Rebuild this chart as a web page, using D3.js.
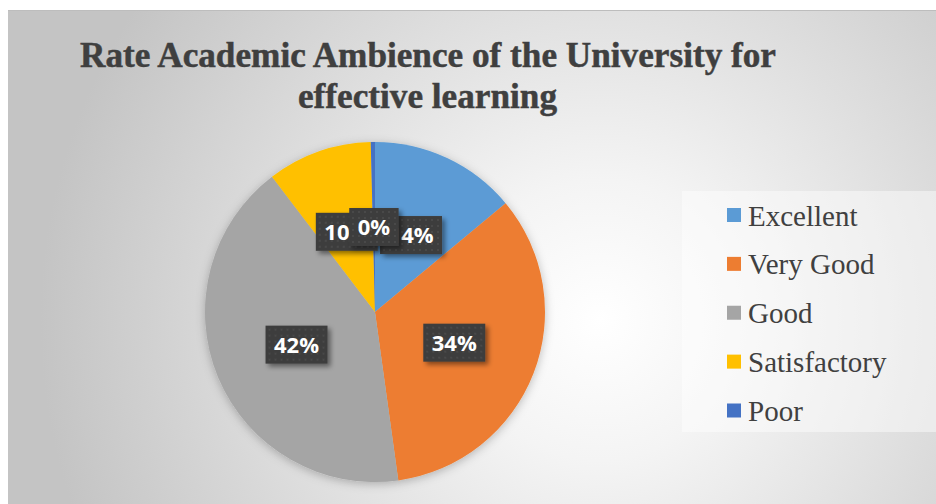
<!DOCTYPE html>
<html>
<head>
<meta charset="utf-8">
<script src="https://cdn.jsdelivr.net/npm/d3@7"></script>
<style>
  html, body { margin: 0; padding: 0; background: #ffffff; }
  svg { display: block; }
  .serif { font-family: "Liberation Serif", "Times New Roman", Times, "DejaVu Serif", serif; }
  .lbl { font-family: "Open Sans", sans-serif; font-weight: 700; }
</style>
</head>
<body>
<svg id="chart" width="936" height="504"></svg>
<script>
// Survey shares (percent of respondents)
const categories = ["Excellent", "Very Good", "Good", "Satisfactory", "Poor"];
const shares = [14, 34, 42, 10, 0.4];
const colors = ["#5b9bd5", "#ed7d31", "#a5a5a5", "#ffc000", "#4472c4"];
const titleLines = ["Rate Academic Ambience of the University for", "effective learning"];

const W = 936, H = 504;
const svg = d3.select("#chart");
const defs = svg.append("defs");

// chart-area background: soft radial grey gradient
const bg = defs.append("radialGradient").attr("id", "bgGrad")
  .attr("gradientUnits", "userSpaceOnUse")
  .attr("cx", 600).attr("cy", 320).attr("r", 560);
bg.append("stop").attr("offset", 0).attr("stop-color", "#ffffff");
bg.append("stop").attr("offset", 0.25).attr("stop-color", "#f4f4f4");
bg.append("stop").attr("offset", 1).attr("stop-color", "#c4c4c4");

// dotted fill for data-label boxes
const pat = defs.append("pattern").attr("id", "dots")
  .attr("patternUnits", "userSpaceOnUse").attr("width", 6).attr("height", 6);
pat.append("rect").attr("width", 6).attr("height", 6).attr("fill", "#3d3d3d");
pat.append("circle").attr("cx", 3).attr("cy", 3).attr("r", 0.8).attr("fill", "#585858");

const lblShadow = defs.append("filter").attr("id", "lblShadow")
  .attr("x", "-30%").attr("y", "-30%").attr("width", "170%").attr("height", "170%");
lblShadow.append("feDropShadow").attr("dx", 3).attr("dy", 3).attr("stdDeviation", 2.5)
  .attr("flood-color", "#000").attr("flood-opacity", 0.45);

const pieShadow = defs.append("filter").attr("id", "pieShadow")
  .attr("x", "-20%").attr("y", "-20%").attr("width", "140%").attr("height", "140%");
pieShadow.append("feDropShadow").attr("dx", 0).attr("dy", 2).attr("stdDeviation", 5)
  .attr("flood-color", "#000").attr("flood-opacity", 0.25);

// frame
svg.append("rect").attr("x", 8).attr("y", 10).attr("width", W - 8).attr("height", H - 10)
  .attr("fill", "url(#bgGrad)");
svg.append("line").attr("x1", 8).attr("x2", W).attr("y1", 10.5).attr("y2", 10.5)
  .attr("stroke", "#bdbdbd").attr("stroke-width", 1);

// title
const title = svg.append("g").attr("class", "serif")
  .attr("font-weight", "bold").attr("font-size", 36).attr("fill", "#3f3f3f")
  .attr("stroke", "#3f3f3f").attr("stroke-width", 0.5)
  .attr("text-anchor", "middle");
const titleSpan = [[80, 776, 67], [298, 557, 108]];
titleLines.forEach((t, i) => {
  const [x0, x1, y] = titleSpan[i];
  title.append("text").attr("x", (x0 + x1) / 2).attr("y", y)
    .attr("textLength", x1 - x0).attr("lengthAdjust", "spacingAndGlyphs")
    .text(t);
});

// pie
const cx = 375, cy = 312, R = 170;
const total = d3.sum(shares);
const pie = d3.pie().sort(null).value(d => d.v);
const data = pie(categories.map((c, i) => ({ c, v: shares[i], color: colors[i] })));
const arc = d3.arc().innerRadius(0).outerRadius(R);

const g = svg.append("g").attr("transform", `translate(${cx},${cy})`);
g.append("g").attr("filter", "url(#pieShadow)")
  .selectAll("path").data(data).join("path")
  .attr("d", arc).attr("fill", d => d.data.color);

// data labels, centred on each slice's centroid
const fmt = d => Math.round(d.data.v / total * 100) + "%";
const labels = g.append("g").selectAll("g").data(data).join("g")
  .attr("transform", d => `translate(${arc.centroid(d)})`);
labels.each(function (d) {
  const sel = d3.select(this);
  const txt = sel.append("text").attr("class", "lbl")
    .attr("font-size", 22).attr("fill", "#ffffff").attr("text-anchor", "middle")
    .attr("y", 8).text(fmt(d));
  const w = txt.node().getComputedTextLength() + 17;
  sel.insert("rect", "text").attr("x", -w / 2).attr("y", -19).attr("width", w).attr("height", 38)
    .attr("fill", "url(#dots)").attr("filter", "url(#lblShadow)");
});

// legend
const lg = svg.append("g");
lg.append("rect").attr("x", 682).attr("y", 191).attr("width", W - 682).attr("height", 241)
  .attr("fill", "#ffffff").attr("fill-opacity", 0.45);
const y = d3.scalePoint().domain(categories).range([215.5, 411]);
const items = lg.selectAll("g").data(categories).join("g")
  .attr("transform", d => `translate(727,${y(d)})`);
items.append("rect").attr("x", 0).attr("y", -7.5).attr("width", 14).attr("height", 14)
  .attr("fill", (d, i) => colors[i]);
items.append("text").attr("class", "serif").attr("x", 21).attr("y", 10)
  .attr("font-size", 29).attr("fill", "#404040").text(d => d);
</script>
</body>
</html>
